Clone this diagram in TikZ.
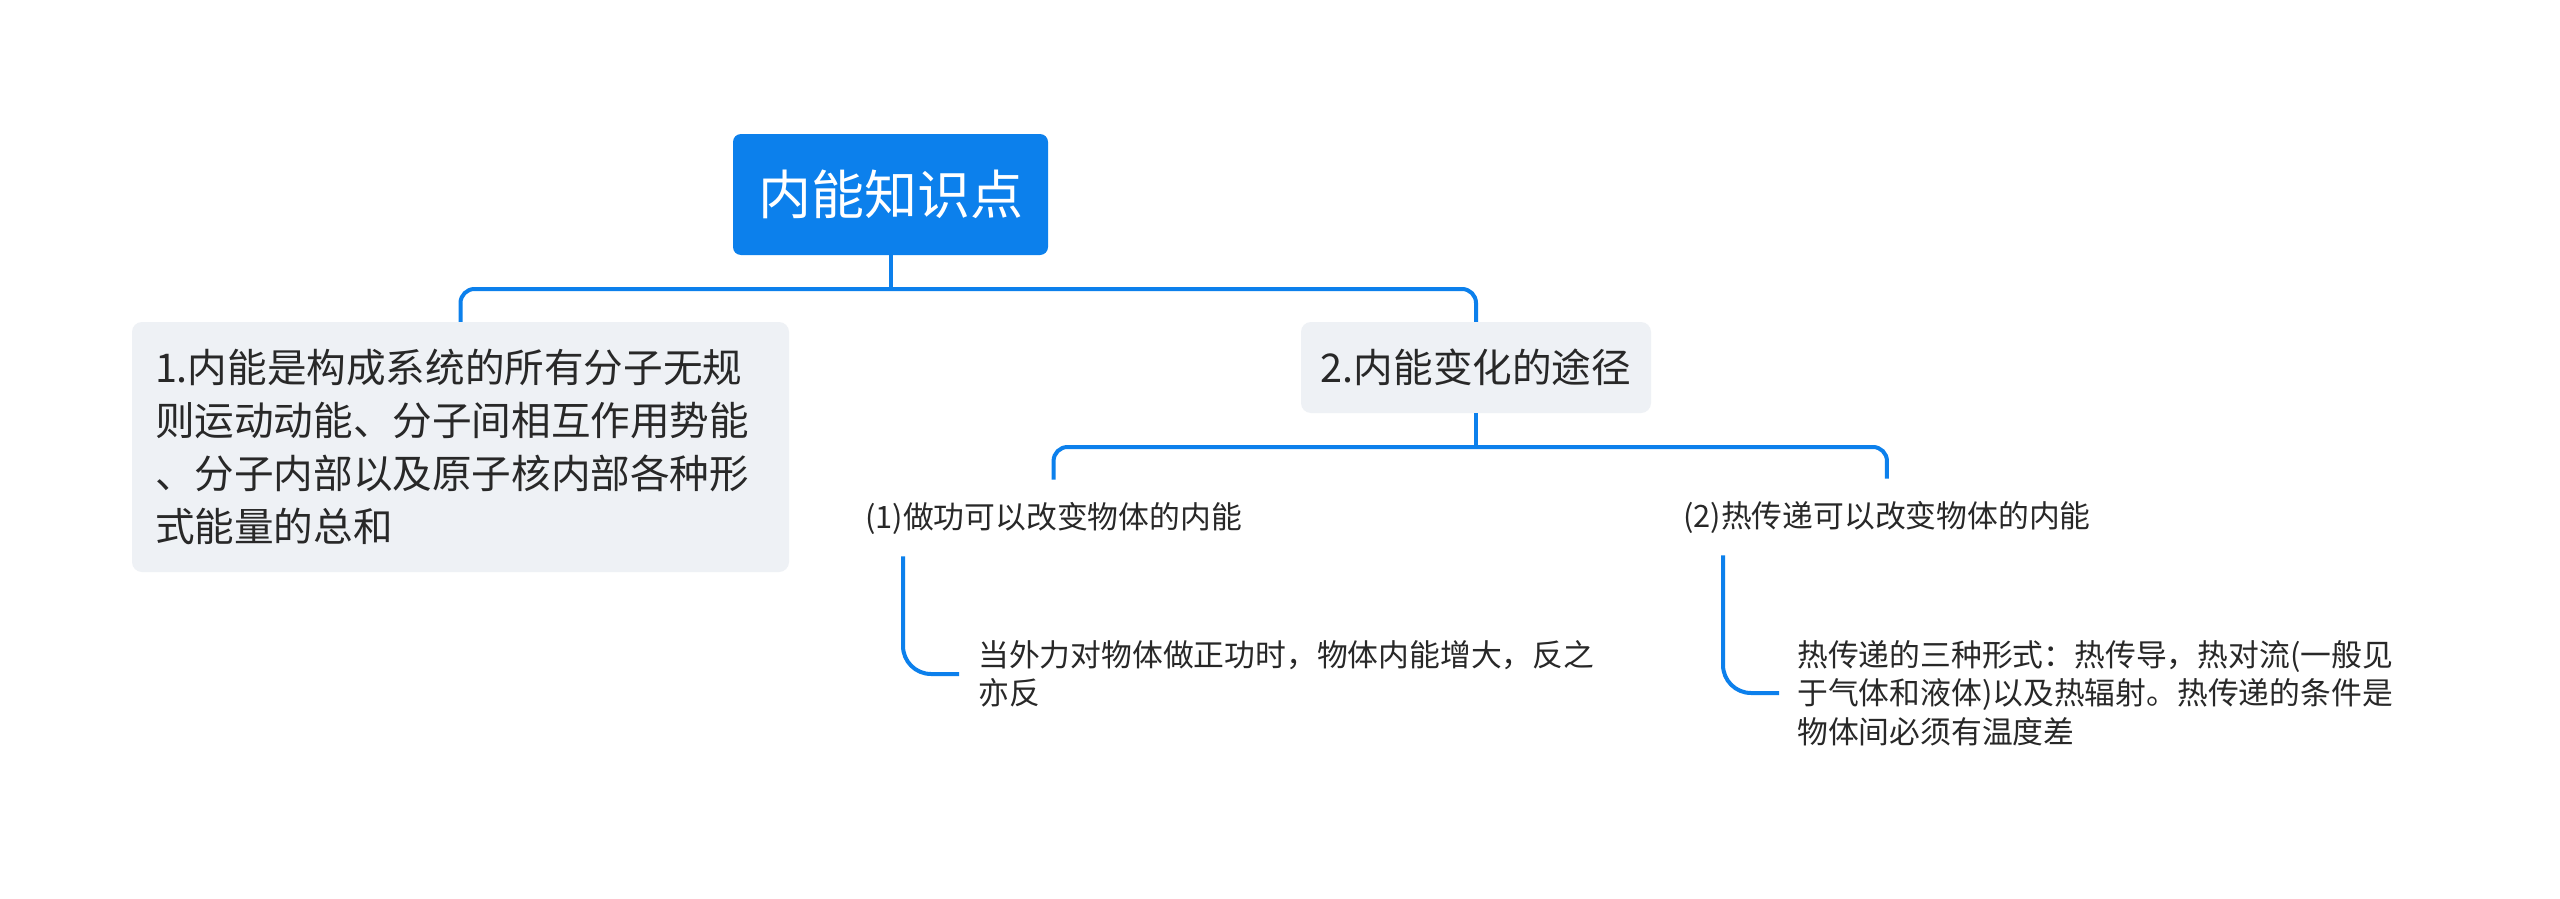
\documentclass[tikz,border=0pt]{standalone}
\usepackage{fontspec}
\setmainfont{Noto Sans CJK SC}
\usetikzlibrary{calc}
\definecolor{xblue}{RGB}{12,128,236}
\definecolor{xgray}{RGB}{238,241,245}
\definecolor{xtext}{RGB}{40,40,40}
\begin{document}
\begin{tikzpicture}[x=1pt,y=-1pt,
  conn/.style={draw=xblue, line width=4pt},
  rootbox/.style={fill=xblue, rounded corners=8pt, minimum width=315pt, minimum height=121pt, inner sep=0pt, text=white, font=\fontsize{53}{60}\selectfont},
  graybox/.style={fill=xgray, rounded corners=10pt, inner sep=0pt, text=xtext, font=\fontsize{39.6}{53}\selectfont},
  leaf/.style={inner xsep=0pt, inner ysep=22pt, text=xtext, font=\fontsize{30.8}{38}\selectfont},
  leaftwo/.style={inner xsep=19pt, inner ysep=4pt, align=left, text=xtext, font=\fontsize{30.8}{38.5}\selectfont}
]
\useasboundingbox (0,0) rectangle (2560,899);
\fill[white] (0,0) rectangle (2560,899);

\node[rootbox] (root) at (890.5,194.5) {内能知识点};
\node[graybox, text width=611pt, inner xsep=23pt, minimum height=250pt, align=left] (n1) at (460.5,447)
  {1.内能是构成系统的所有分子无规\\则运动动能、分子间相互作用势能\\、分子内部以及原子核内部各种形\\式能量的总和};
\node[graybox, minimum width=350pt, minimum height=91pt] (n2) at (1476,367.5) {2.内能变化的途径};

\node[leaf, anchor=west] (c1) at (865,518) {(1)做功可以改变物体的内能};
\node[leaf, anchor=west] (c2) at (1683,517) {(2)热传递可以改变物体的内能};

\node[leaftwo, anchor=west] (g1) at (959,674) {当外力对物体做正功时，物体内能增大，反之\\亦反};
\node[leaftwo, anchor=west, inner xsep=18pt] (g2) at (1779,693) {热传递的三种形式：热传导，热对流(一般见\\于气体和液体)以及热辐射。热传递的条件是\\物体间必须有温度差};

\coordinate (busA) at (0,289);
\coordinate (busB) at (0,447);

\draw[conn] (root.south) -- (root.south |- busA);
\draw[conn, rounded corners=14pt] (n1.north) -- (n1.north |- busA) -- (n2.north |- busA) -- (n2.north);
\draw[conn] (n2.south) -- (n2.south |- busB);
\draw[conn, rounded corners=14pt] (c1.north) -- (c1.north |- busB) -- (c2.north |- busB) -- (c2.north);
\draw[conn, rounded corners=28pt] ($(c1.south west)+(38,0)$) |- (g1.west);
\draw[conn, rounded corners=28pt] ($(c2.south west)+(40,0)$) |- (g2.west);
\end{tikzpicture}
\end{document}
